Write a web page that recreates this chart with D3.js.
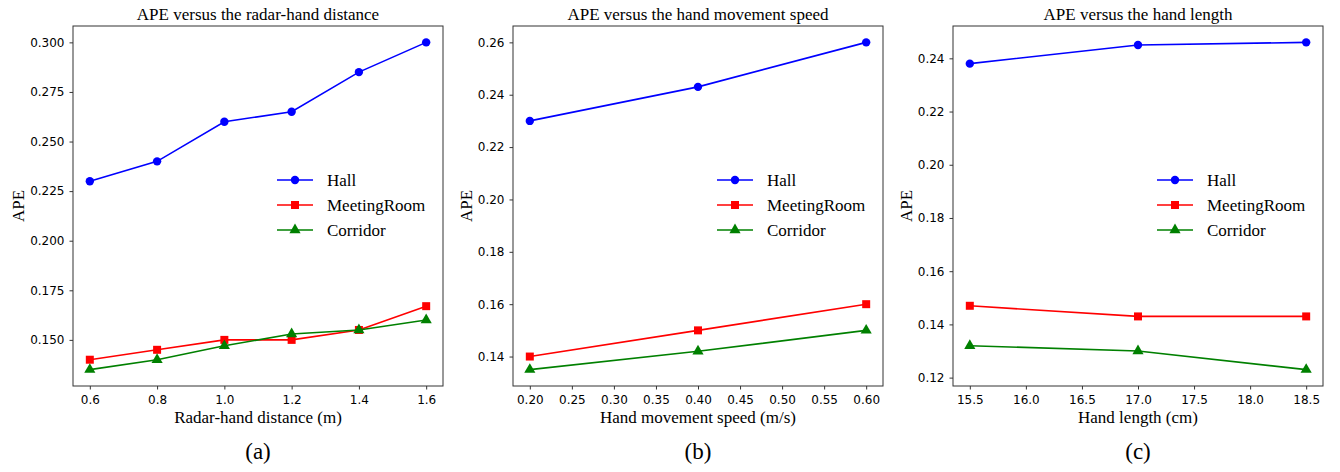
<!DOCTYPE html>
<html>
<head>
<meta charset="utf-8">
<script src="https://cdn.jsdelivr.net/npm/d3@7"></script>
<style>
  body { margin: 0; background: #fff; }
  svg text { fill: #000; }
  .serif { font-family: "Liberation Serif", "Times New Roman", serif; }
  .tick text { font-family: "DejaVu Sans", sans-serif; font-size: 12px; }
</style>
</head>
<body>
<div id="chart"></div>
<script>
// series names and colours
const seriesNames = ["Hall", "MeetingRoom", "Corridor"];
const seriesColors = ["#0000ff", "#ff0000", "#008000"];
const seriesMarkers = ["circle", "square", "triangle"];

// (a) radar-hand distance
const distance = [0.6, 0.8, 1.0, 1.2, 1.4, 1.6];
const distHall = [0.230, 0.240, 0.260, 0.265, 0.285, 0.300];
const distMeeting = [0.140, 0.145, 0.150, 0.150, 0.155, 0.167];
const distCorridor = [0.135, 0.140, 0.147, 0.153, 0.155, 0.160];
const distXTicks = [0.6, 0.8, 1.0, 1.2, 1.4, 1.6];
const distYTicks = [0.150, 0.175, 0.200, 0.225, 0.250, 0.275, 0.300];

// (b) hand movement speed
const speed = [0.2, 0.4, 0.6];
const speedHall = [0.230, 0.243, 0.260];
const speedMeeting = [0.140, 0.150, 0.160];
const speedCorridor = [0.135, 0.142, 0.150];
const speedXTicks = [0.20, 0.25, 0.30, 0.35, 0.40, 0.45, 0.50, 0.55, 0.60];
const speedYTicks = [0.14, 0.16, 0.18, 0.20, 0.22, 0.24, 0.26];

// (c) hand length
const handLength = [15.5, 17.0, 18.5];
const lenHall = [0.238, 0.245, 0.246];
const lenMeeting = [0.147, 0.143, 0.143];
const lenCorridor = [0.132, 0.130, 0.123];
const lenXTicks = [15.5, 16.0, 16.5, 17.0, 17.5, 18.0, 18.5];
const lenYTicks = [0.12, 0.14, 0.16, 0.18, 0.20, 0.22, 0.24];

const panels = [
  { title: "APE versus the radar-hand distance", xLabel: "Radar-hand distance (m)", caption: "(a)",
    x: distance, ys: [distHall, distMeeting, distCorridor], xTicks: distXTicks, yTicks: distYTicks,
    xFmt: ".1f", yFmt: ".3f" },
  { title: "APE versus the hand movement speed", xLabel: "Hand movement speed (m/s)", caption: "(b)",
    x: speed, ys: [speedHall, speedMeeting, speedCorridor], xTicks: speedXTicks, yTicks: speedYTicks,
    xFmt: ".2f", yFmt: ".2f" },
  { title: "APE versus the hand length", xLabel: "Hand length (cm)", caption: "(c)",
    x: handLength, ys: [lenHall, lenMeeting, lenCorridor], xTicks: lenXTicks, yTicks: lenYTicks,
    xFmt: ".1f", yFmt: ".2f" }
];

const width = 1340, height = 472;
const plotW = 370, plotH = 360, plotTop = 26;
const lefts = [73, 513, 953];

const svg = d3.select("#chart").append("svg")
  .attr("width", width)
  .attr("height", height);

// matplotlib style 5% padding
function padded(vals) {
  const [lo, hi] = d3.extent(vals);
  const m = (hi - lo) * 0.05;
  return [lo - m, hi + m];
}

const symbolFor = {
  circle: d3.symbol().type(d3.symbolCircle).size(Math.PI * 4.2 * 4.2),
  square: d3.symbol().type(d3.symbolSquare).size(64),
  triangle: d3.symbol().type(d3.symbolTriangle).size(54)
};

panels.forEach((p, pi) => {
  const g = svg.append("g").attr("transform", "translate(" + lefts[pi] + "," + plotTop + ")");

  const x = d3.scaleLinear().domain(padded(p.x)).range([0, plotW]);
  const y = d3.scaleLinear().domain(padded(p.ys.flat())).range([plotH, 0]);

  const xAxis = g.append("g")
    .attr("transform", "translate(0," + plotH + ")")
    .call(d3.axisBottom(x).tickValues(p.xTicks).tickFormat(d3.format(p.xFmt)).tickSize(3.5).tickPadding(4));
  xAxis.select(".domain").remove();
  xAxis.selectAll(".tick line").attr("stroke", "#000").attr("stroke-width", 0.8);
  xAxis.selectAll(".tick text").attr("dy", "0.85em");

  const yAxis = g.append("g")
    .call(d3.axisLeft(y).tickValues(p.yTicks).tickFormat(d3.format(p.yFmt)).tickSize(3.5).tickPadding(5));
  yAxis.select(".domain").remove();
  yAxis.selectAll(".tick line").attr("stroke", "#000").attr("stroke-width", 0.8);

  // frame
  g.append("rect")
    .attr("width", plotW)
    .attr("height", plotH)
    .attr("fill", "none")
    .attr("stroke", "#333")
    .attr("stroke-width", 1);

  const line = d3.line().x(d => x(d[0])).y(d => y(d[1]));

  p.ys.forEach((vals, si) => {
    const pts = p.x.map((xv, i) => [xv, vals[i]]);
    g.append("path")
      .datum(pts)
      .attr("fill", "none")
      .attr("stroke", seriesColors[si])
      .attr("stroke-width", 1.6)
      .attr("d", line);
    g.selectAll(".m" + si)
      .data(pts)
      .enter()
      .append("path")
      .attr("class", "m" + si)
      .attr("d", symbolFor[seriesMarkers[si]])
      .attr("transform", d => "translate(" + x(d[0]) + "," + y(d[1]) + ")")
      .attr("fill", seriesColors[si]);
  });

  // legend
  const legend = g.append("g").attr("transform", "translate(204,154)");
  seriesNames.forEach((name, si) => {
    const row = legend.append("g").attr("transform", "translate(0," + si * 25 + ")");
    row.append("line")
      .attr("x1", 0).attr("x2", 36)
      .attr("stroke", seriesColors[si])
      .attr("stroke-width", 1.6);
    row.append("path")
      .attr("d", symbolFor[seriesMarkers[si]])
      .attr("transform", "translate(18,0)")
      .attr("fill", seriesColors[si]);
    row.append("text")
      .attr("class", "serif")
      .attr("x", 50)
      .attr("y", 6)
      .style("font-size", "17px")
      .text(name);
  });

  // title, axis labels, caption
  g.append("text")
    .attr("class", "serif")
    .attr("x", plotW / 2)
    .attr("y", -6.5)
    .attr("text-anchor", "middle")
    .style("font-size", "17px")
    .text(p.title);

  g.append("text")
    .attr("class", "serif")
    .attr("x", plotW / 2)
    .attr("y", 397)
    .attr("text-anchor", "middle")
    .style("font-size", "17px")
    .text(p.xLabel);

  const tb = yAxis.node().getBBox();
  g.append("text")
    .attr("class", "serif")
    .attr("transform", "translate(" + (tb.x - 6) + "," + plotH / 2 + ") rotate(-90)")
    .attr("text-anchor", "middle")
    .style("font-size", "17px")
    .text("APE");

  g.append("text")
    .attr("class", "serif")
    .attr("x", plotW / 2)
    .attr("y", 433)
    .attr("text-anchor", "middle")
    .style("font-size", "23px")
    .text(p.caption);
});
</script>
</body>
</html>
